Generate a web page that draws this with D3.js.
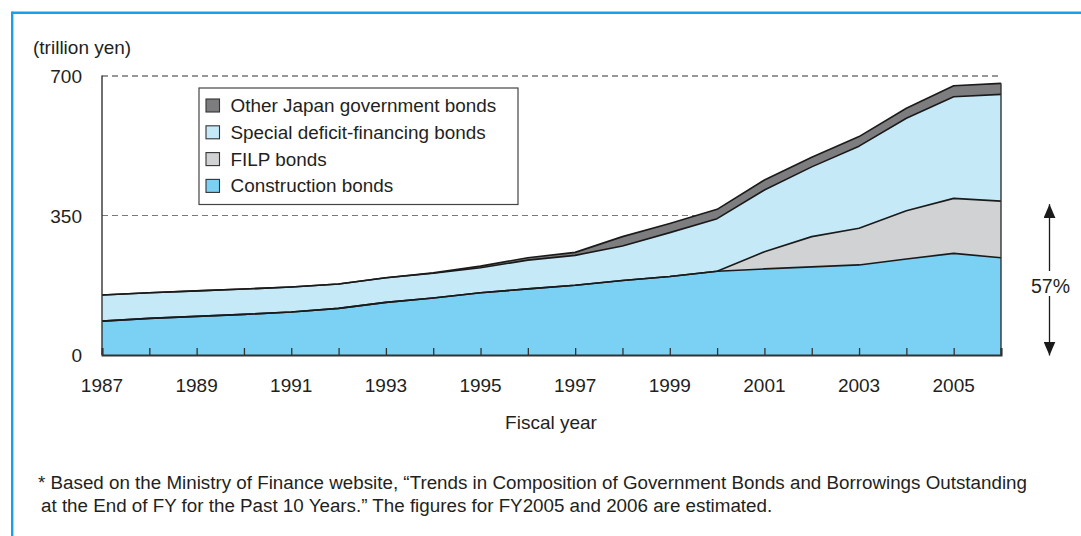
<!DOCTYPE html>
<html>
<head>
<meta charset="utf-8">
<script src="https://cdn.jsdelivr.net/npm/d3@7"></script>
<style>
  html, body { margin: 0; padding: 0; background: #fff; }
  svg { display: block; font-family: "Liberation Sans", Arial, Helvetica, sans-serif; }
  text { fill: #231f20; }
</style>
</head>
<body>
<svg id="chart" width="1081" height="536"></svg>
<script>
// Outstanding government bonds by type, end of fiscal year (trillion yen)
const years = [1987, 1988, 1989, 1990, 1991, 1992, 1993, 1994, 1995, 1996,
               1997, 1998, 1999, 2000, 2001, 2002, 2003, 2004, 2005, 2006];
const construction = [85, 92, 97, 102, 108, 117, 132, 143, 156, 166,
                      175, 187, 197, 210, 216, 221, 226, 241, 255, 244];
const filp = [0, 0, 0, 0, 0, 0, 0, 0, 0, 0,
              0, 0, 0, 0, 43, 76, 92, 121, 138, 142];
const deficit = [65.5, 64, 64, 63.5, 62.5, 61, 62, 62, 63, 72,
                 75, 86.5, 110, 132, 155, 175, 206, 232, 255, 268];
const other = [0, 0, 0, 0, 0, 0, 0, 1, 4, 6,
               7.5, 23.5, 23, 23.5, 25, 24, 24, 25, 27.5, 27.5];

const seriesKeys = ["construction", "filp", "deficit", "other"];
const seriesNames = {
  other: "Other Japan government bonds",
  deficit: "Special deficit-financing bonds",
  filp: "FILP bonds",
  construction: "Construction bonds"
};
const legendOrder = ["other", "deficit", "filp", "construction"];
const colors = {
  construction: "#7ad1f4",
  filp: "#d1d2d4",
  deficit: "#c6e9f8",
  other: "#7d7d80"
};
const xTickYears = [1987, 1989, 1991, 1993, 1995, 1997, 1999, 2001, 2003, 2005];
const yTicks = [0, 350, 700];
const shareLabel = "57%";

const rows = years.map((yr, i) => ({
  year: yr,
  construction: construction[i],
  filp: filp[i],
  deficit: deficit[i],
  other: other[i]
}));

const svg = d3.select("#chart");

// Frame
svg.append("line").attr("x1", 12).attr("x2", 1081).attr("y1", 12.8).attr("y2", 12.8)
  .attr("stroke", "#15a2e6").attr("stroke-width", 2.4);
svg.append("line").attr("x1", 12.2).attr("x2", 12.2).attr("y1", 11.6).attr("y2", 536)
  .attr("stroke", "#15a2e6").attr("stroke-width", 2.4);

const x = d3.scaleLinear().domain([1987, 2006]).range([102, 1001]);
const y = d3.scaleLinear().domain([0, 700]).range([355, 76]);

// Reference dashed lines
svg.append("line")
  .attr("x1", x(1987)).attr("x2", x(2006)).attr("y1", y(700)).attr("y2", y(700))
  .attr("stroke", "#333").attr("stroke-width", 1.1).attr("stroke-dasharray", "6,4");
svg.append("line")
  .attr("x1", x(1987)).attr("x2", x(2006)).attr("y1", y(350)).attr("y2", y(350))
  .attr("stroke", "#7a7a7a").attr("stroke-width", 1.1).attr("stroke-dasharray", "6,4");

// Stacked areas
const stack = d3.stack().keys(seriesKeys);
const layers = stack(rows);

const area = d3.area()
  .x(d => x(d.data.year))
  .y0(d => y(d[0]))
  .y1(d => y(d[1]));

svg.append("g").selectAll("path")
  .data(layers)
  .join("path")
  .attr("d", area)
  .attr("fill", d => colors[d.key]);

const topLine = d3.line()
  .x(d => x(d.data.year))
  .y(d => y(d[1]));

svg.append("g").selectAll("path")
  .data(layers)
  .join("path")
  .attr("d", topLine)
  .attr("fill", "none")
  .attr("stroke", "#1a1a1a")
  .attr("stroke-width", 1.6)
  .attr("stroke-linejoin", "round");

// Right edge of the stack
const last = layers[layers.length - 1];
svg.append("line")
  .attr("x1", x(2006)).attr("x2", x(2006))
  .attr("y1", y(0)).attr("y2", y(last[last.length - 1][1]))
  .attr("stroke", "#333").attr("stroke-width", 1.4);

// Y axis line
svg.append("line")
  .attr("x1", x(1987)).attr("x2", x(1987)).attr("y1", y(700) - 0.5).attr("y2", y(0))
  .attr("stroke", "#333").attr("stroke-width", 1.4);

// X axis with inward ticks
const xAxis = d3.axisBottom(x)
  .tickValues(d3.range(1987, 2007))
  .tickSize(-7)
  .tickFormat("");
const gx = svg.append("g")
  .attr("transform", `translate(0,${y(0)})`)
  .call(xAxis);
gx.select(".domain").attr("stroke", "#333").attr("stroke-width", 2);
gx.selectAll(".tick line").attr("stroke", "#333").attr("stroke-width", 1.3);

svg.append("g").selectAll("text")
  .data(xTickYears)
  .join("text")
  .attr("x", d => x(d))
  .attr("y", 392)
  .attr("text-anchor", "middle")
  .attr("font-size", 19)
  .text(d => d);

// Y tick labels
svg.append("g").selectAll("text")
  .data(yTicks)
  .join("text")
  .attr("x", 82)
  .attr("y", d => y(d) + 7)
  .attr("text-anchor", "end")
  .attr("font-size", 19)
  .text(d => d);

svg.append("text")
  .attr("x", 33).attr("y", 54)
  .attr("font-size", 19)
  .text("(trillion yen)");

svg.append("text")
  .attr("x", 551).attr("y", 429)
  .attr("text-anchor", "middle")
  .attr("font-size", 19)
  .text("Fiscal year");

// Legend
const legend = svg.append("g");
legend.append("rect")
  .attr("x", 199).attr("y", 88).attr("width", 319).attr("height", 116.5)
  .attr("fill", "#fff").attr("stroke", "#444").attr("stroke-width", 1.2);
const items = legend.selectAll("g.item")
  .data(legendOrder)
  .join("g")
  .attr("class", "item")
  .attr("transform", (d, i) => `translate(0,${105.5 + i * 26.8})`);
items.append("rect")
  .attr("x", 206).attr("y", -6.5).attr("width", 13.5).attr("height", 13)
  .attr("fill", d => colors[d]).attr("stroke", "#333").attr("stroke-width", 1.1);
items.append("text")
  .attr("x", 230.5).attr("y", 6.5)
  .attr("font-size", 18.9)
  .text(d => seriesNames[d]);

// Share of construction + FILP bonds in 2006
const shareTop = y(construction[19] + filp[19]);
const ax = 1049.5;
const defs = svg.append("defs");
defs.append("marker")
  .attr("id", "arrowhead")
  .attr("viewBox", "0 0 14 12")
  .attr("refX", 14).attr("refY", 6)
  .attr("markerWidth", 14).attr("markerHeight", 12)
  .attr("markerUnits", "userSpaceOnUse")
  .attr("orient", "auto")
  .append("path")
  .attr("d", "M0,0 L14,6 L0,12 Z")
  .attr("fill", "#1a1a1a");

svg.append("line")
  .attr("x1", ax).attr("x2", ax).attr("y1", 271).attr("y2", shareTop + 3)
  .attr("stroke", "#1a1a1a").attr("stroke-width", 1.3)
  .attr("marker-end", "url(#arrowhead)");
svg.append("line")
  .attr("x1", ax).attr("x2", ax).attr("y1", 296).attr("y2", y(0) + 0.5)
  .attr("stroke", "#1a1a1a").attr("stroke-width", 1.3)
  .attr("marker-end", "url(#arrowhead)");
svg.append("text")
  .attr("x", ax + 1).attr("y", 293)
  .attr("text-anchor", "middle")
  .attr("font-size", 19.5)
  .text(shareLabel);

// Source note
const note = svg.append("text").attr("font-size", 18.8);
note.append("tspan").attr("x", 38).attr("y", 489)
  .text("* Based on the Ministry of Finance website, \u201CTrends in Composition of Government Bonds and Borrowings Outstanding");
note.append("tspan").attr("x", 41).attr("y", 512)
  .text("at the End of FY for the Past 10 Years.\u201D The figures for FY2005 and 2006 are estimated.");
</script>
</body>
</html>
